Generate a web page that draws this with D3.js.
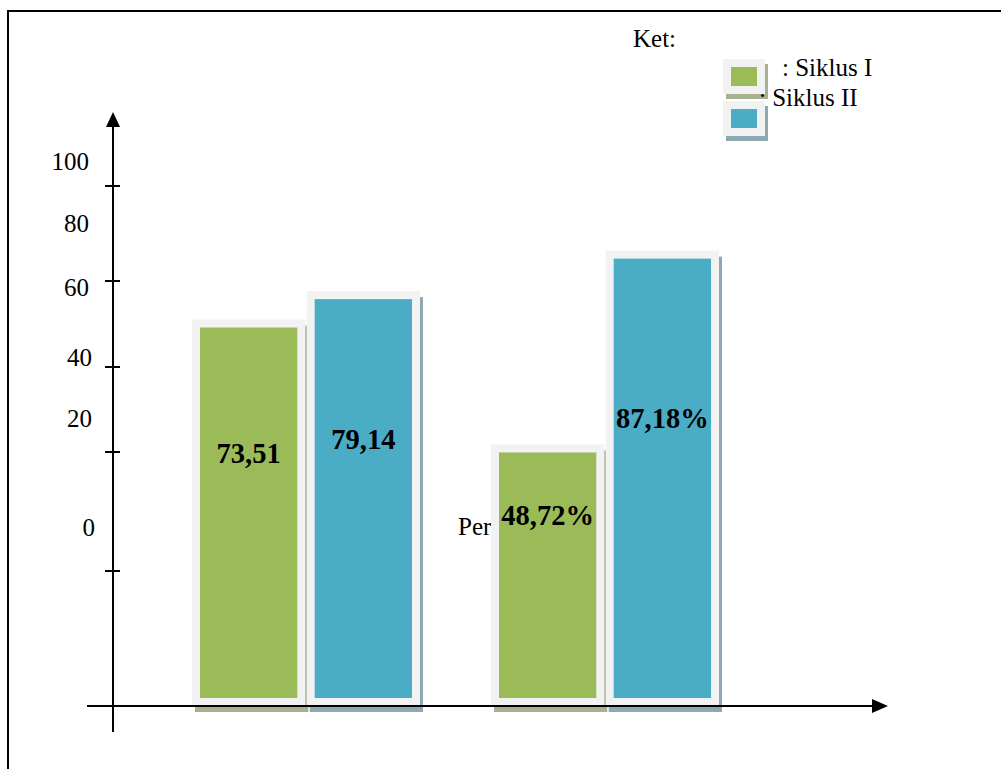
<!DOCTYPE html>
<html>
<head>
<meta charset="utf-8">
<script src="https://cdn.jsdelivr.net/npm/d3@7"></script>
<style>
  html, body { margin: 0; padding: 0; background: #fff; }
  svg { display: block; font-family: "Liberation Serif", "Times New Roman", serif; }
</style>
</head>
<body>
<svg id="chart" width="1001" height="769"></svg>
<script>
// Data
const categories = ["Nilai Rata-rata", "Persentase Ketuntasan"];
const series = ["Siklus I", "Siklus II"];
const siklusI = [73.51, 48.72];
const siklusII = [79.14, 87.18];
const units = ["", "%"];
const tickLabels = [0, 20, 40, 60, 80, 100];
const tickMarks = [0, 20, 40, 60, 80];

const colors = { "Siklus I": "#9bbb59", "Siklus II": "#4bacc6" };
const shadows = { "Siklus I": "#a7b08f", "Siklus II": "#8fa9b3" };
const frameColor = "#f2f2f2";

const rows = [];
categories.forEach((c, i) => {
  rows.push({ cat: c, s: series[0], v: siklusI[i], unit: units[i] });
  rows.push({ cat: c, s: series[1], v: siklusII[i], unit: units[i] });
});

const svg = d3.select("#chart");

// Scales
const y = d3.scaleLinear().domain([0, 100]).range([698, 194]);
const x0 = d3.scalePoint().domain(categories).range([306, 605]);
const x1 = d3.scaleBand().domain(series).range([-114, 114]).paddingInner(0.012);
const yLabel = d3.scaleLinear().domain(tickLabels).range([527, 418, 357, 287, 223, 161]);
const yTick = d3.scaleLinear().domain(tickMarks).range([571, 452, 367, 281, 186]);

const fmt = v => d3.format(".2f")(v).replace(".", ",");
const inset = 8;

// Page frame
svg.append("path")
  .attr("d", "M8,769V11H1001")
  .attr("fill", "none").attr("stroke", "#000").attr("stroke-width", 2);

// Category caption partly covered by the bars
svg.append("text")
  .attr("x", x0(categories[1]) - 147)
  .attr("y", 535)
  .attr("font-size", 25)
  .text(categories[1].split(" ")[0]);

// Bars: drop shadow, light frame, coloured fill
const bar = svg.append("g").selectAll("g").data(rows).join("g")
  .attr("transform", d => `translate(${x0(d.cat) + x1(d.s)},0)`);

bar.append("rect")
  .attr("x", 3).attr("y", d => y(d.v) - inset + 6)
  .attr("width", x1.bandwidth())
  .attr("height", d => y(0) - y(d.v) + 2 * inset)
  .attr("fill", d => shadows[d.s]);

bar.append("rect")
  .attr("x", 0).attr("y", d => y(d.v) - inset)
  .attr("width", x1.bandwidth())
  .attr("height", d => y(0) - y(d.v) + 2 * inset)
  .attr("fill", frameColor);

bar.append("rect")
  .attr("x", inset).attr("y", d => y(d.v))
  .attr("width", x1.bandwidth() - 2 * inset)
  .attr("height", d => y(0) - y(d.v))
  .attr("fill", d => colors[d.s]);

// Value labels, a little above the middle of each bar
bar.append("text")
  .attr("x", x1.bandwidth() / 2)
  .attr("y", d => y(d.v / 2) - 50)
  .attr("text-anchor", "middle")
  .attr("font-weight", "bold")
  .attr("font-size", 28.5)
  .text(d => fmt(d.v) + d.unit);

// Axes
const axisG = svg.append("g").attr("stroke", "#000").attr("stroke-width", 2);
axisG.append("line").attr("x1", 113).attr("x2", 113).attr("y1", 126).attr("y2", 732);
axisG.append("line").attr("x1", 87).attr("x2", 874).attr("y1", 706).attr("y2", 706);
svg.append("path").attr("d", "M113,112L106,127L120,127Z").attr("fill", "#000");
svg.append("path").attr("d", "M888,706L872,699L872,713Z").attr("fill", "#000");

svg.append("g").selectAll("line").data(tickMarks).join("line")
  .attr("x1", 105).attr("x2", 120)
  .attr("y1", d => yTick(d)).attr("y2", d => yTick(d))
  .attr("stroke", "#000").attr("stroke-width", 2);

svg.append("g").selectAll("text").data(tickLabels).join("text")
  .attr("x", d => d === 0 ? 95 : (d <= 40 ? 92 : 89))
  .attr("y", d => yLabel(d))
  .attr("dy", "0.35em")
  .attr("text-anchor", "end")
  .attr("font-size", 25)
  .text(d => d);

// Legend
svg.append("text").attr("x", 633).attr("y", 47).attr("font-size", 25).text("Ket:");

const legend = svg.append("g").selectAll("g").data(series).join("g")
  .attr("transform", (d, i) => `translate(723,${59 + i * 42})`);

legend.append("text")
  .attr("x", (d, i) => 59 - i * 23)
  .attr("y", (d, i) => 17 - i * 12)
  .attr("font-size", 25)
  .text(d => ": " + d);

legend.append("rect").attr("x", 3).attr("y", 5).attr("width", 42).attr("height", 35)
  .attr("fill", d => shadows[d]);
legend.append("rect").attr("x", 0).attr("y", 0).attr("width", 42).attr("height", 35)
  .attr("fill", frameColor);
legend.append("rect").attr("x", 8).attr("y", 8).attr("width", 26).attr("height", 19)
  .attr("fill", d => colors[d]);
</script>
</body>
</html>
